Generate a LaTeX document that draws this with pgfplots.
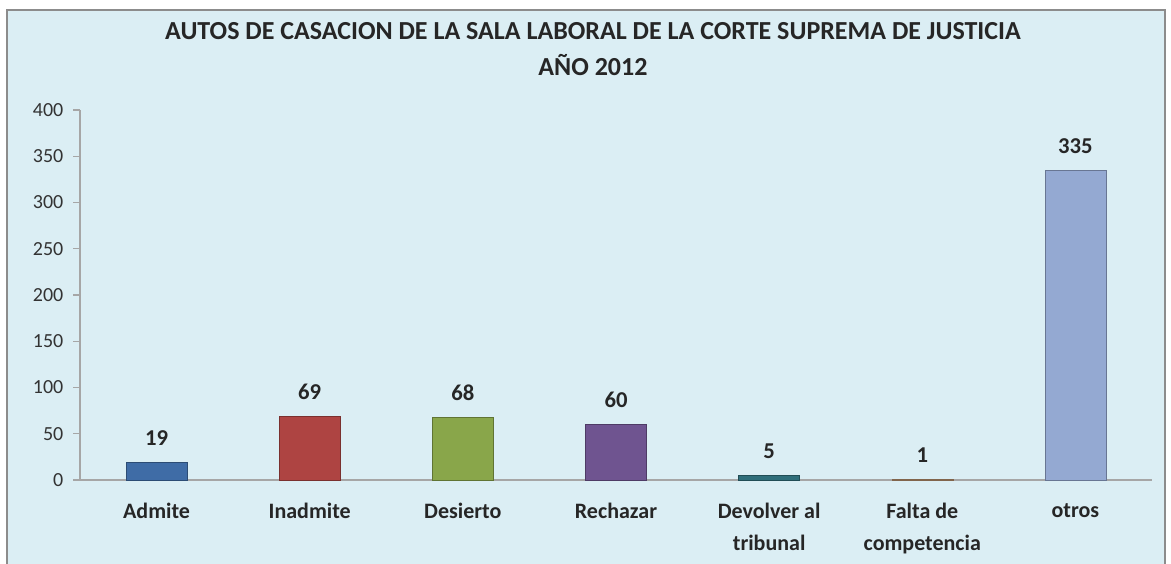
\documentclass[border=0pt]{standalone}
\usepackage{pgfplots}
\pgfplotsset{compat=1.18}
\usepackage{fontspec}
\setmainfont{Carlito}
\definecolor{bg}{HTML}{DBEEF4}
\definecolor{frame}{HTML}{8C8C8C}
\definecolor{axisgray}{HTML}{A6A6A6}
\definecolor{cAdm}{HTML}{3F6CA6}
\definecolor{cIna}{HTML}{AE4442}
\definecolor{cDes}{HTML}{89A64A}
\definecolor{cRec}{HTML}{6F5490}
\definecolor{cDev}{HTML}{2F6E7A}
\definecolor{cFal}{HTML}{B8906C}
\definecolor{cOtr}{HTML}{94A9D2}
\begin{document}
\begin{tikzpicture}[x=0.75pt,y=0.75pt]
\useasboundingbox (0,0) rectangle (1171,564);
\draw[frame,fill=bg,line width=1.2pt] (7,-5) rectangle (1165,554);
\node[font=\bfseries\fontsize{19.5}{27}\selectfont,align=center,text=black!85] at (593,515) {AUTOS DE CASACION DE LA SALA LABORAL DE LA CORTE SUPREMA DE JUSTICIA\\AÑO 2012};
\begin{axis}[at={(60pt,63pt)},anchor=south west,scale only axis,width=804pt,height=277.5pt,
  ymin=0,ymax=400,ytick={0,50,...,400},xmin=-0.5,xmax=6.5,
  axis x line*=bottom,axis y line*=left,axis line style={axisgray,line width=0.8pt},
  tick style={axisgray,line width=0.8pt},major tick length=5pt,
  tick align=outside,
  xtick={0,...,6},xticklabels={Admite,Inadmite,Desierto,Rechazar,{Devolver al\\tribunal},{Falta de\\competencia},otros},
  x tick style={draw=none},
  extra x ticks={0.5,1.5,...,6.5},extra x tick labels={},extra x tick style={tick style={axisgray,line width=0.8pt,draw=axisgray}},
  xticklabel style={font=\bfseries\fontsize{16.5}{24}\selectfont,align=center,anchor=north,yshift=-9pt,text=black!85},
  yticklabel style={font=\fontsize{15}{17}\selectfont,text=black!80,xshift=-4pt},
  /pgf/number format/assume math mode=true,
  ybar,bar width=45.75pt,bar shift=0pt,
  nodes near coords,every node near coord/.append style={font=\bfseries\fontsize{17}{19}\selectfont,text=black!85,yshift=9pt},
  clip=false]
\addplot[fill=cAdm,draw=cAdm!70!black] coordinates {(0,19)};
\addplot[fill=cIna,draw=cIna!70!black] coordinates {(1,69)};
\addplot[fill=cDes,draw=cDes!70!black] coordinates {(2,68)};
\addplot[fill=cRec,draw=cRec!70!black] coordinates {(3,60)};
\addplot[fill=cDev,draw=cDev!70!black] coordinates {(4,5)};
\addplot[fill=cFal,draw=cFal!70!black] coordinates {(5,1)};
\addplot[fill=cOtr,draw=cOtr!70!black] coordinates {(6,335)};
\end{axis}
\end{tikzpicture}
\end{document}
